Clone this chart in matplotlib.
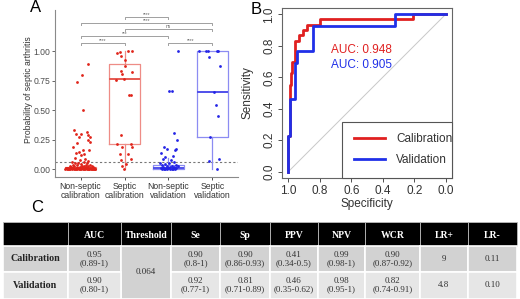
import matplotlib
matplotlib.use('Agg')
import matplotlib.pyplot as plt
from matplotlib.patches import Rectangle

plt.rcParams['font.family'] = ['Liberation Sans', 'DejaVu Sans']

# ---- panel A: predicted probability per group ----
groups = ['Non-septic\ncalibration', 'Septic\ncalibration', 'Non-septic\nvalidation', 'Septic\nvalidation']
pt_colors = ['#e0241a', '#e0241a', '#2424e6', '#2424e6']
box_colors = ['#ee8c86', '#ee8c86', '#8c8cf2', '#8c8cf2']
med_colors = ['#e65a52', '#e65a52', '#5050ea', '#5050ea']

box_q1 = [0.0, 0.214, 0.003, 0.276]
box_med = [0.008, 0.766, 0.012, 0.654]
box_q3 = [0.022, 0.887, 0.040, 1.0]
box_lo = [0.0, 0.0, 0.0, 0.0]
box_hi = [0.05, 1.0, 0.095, 1.0]

nsc_y = [0.89, 0.80, 0.74, 0.50, 0.33, 0.32, 0.30, 0.30, 0.29, 0.27, 0.27, 0.25, 0.23, 0.22,
         0.19, 0.16, 0.16, 0.15, 0.14, 0.13, 0.12, 0.10, 0.09, 0.08, 0.07, 0.06,
         0.06, 0.055, 0.05, 0.05, 0.045, 0.04, 0.04, 0.035, 0.035, 0.03, 0.03, 0.03, 0.025,
         0.025, 0.025, 0.02, 0.02, 0.02, 0.02, 0.015, 0.015, 0.015, 0.015, 0.012, 0.01,
         0.01, 0.01, 0.01, 0.01, 0.008, 0.008, 0.006, 0.006, 0.005, 0.005, 0.004, 0.004,
         0.003, 0.003, 0.002, 0.002, 0.001, 0.001, 0.0, 0.0, 0.0, 0.0, 0.0, 0.0, 0.0,
         0.012, 0.01, 0.008, 0.006, 0.004, 0.002, 0.0, 0.0, 0.003, 0.007, 0.011, 0.015]
nsc_dx = [0.17, 0.03, -0.09, 0.05, -0.14, 0.14, 0.0, -0.11, 0.17, 0.21, -0.03, 0.17, 0.22, -0.09,
          -0.17, 0.06, 0.19, -0.04, -0.11, 0.09, 0.02, -0.13, 0.10, -0.02, 0.18, -0.20,
          0.08, -0.12, 0.15, -0.05, 0.01, -0.18, 0.12, 0.21, -0.09, -0.25, 0.04, 0.18, -0.14,
          0.09, 0.26, -0.21, -0.02, 0.13, 0.29, -0.30, -0.08, 0.06, 0.22, -0.16, -0.33,
          -0.11, 0.03, 0.16, 0.31, -0.24, 0.10, -0.04, 0.24, -0.28, 0.19, -0.13, 0.07,
          -0.20, 0.27, -0.07, 0.14, -0.31, 0.33, -0.26, -0.15, -0.01, 0.11, 0.20, 0.30, -0.35,
          0.25, -0.19, -0.29, 0.00, 0.28, -0.10, 0.05, 0.34, 0.17, -0.23, 0.12, -0.06]

sc_y = [0.986, 0.994, 1.0, 1.0, 0.958, 0.924, 0.876, 0.834, 0.81, 0.825, 0.755, 0.76, 0.628,
        0.625, 0.287, 0.214, 0.214, 0.19, 0.19, 0.13, 0.13, 0.08, 0.085, 0.045, 0.03, 0.003]
sc_dx = [-0.17, -0.11, 0.09, 0.17, -0.09, 0.01, 0.02, -0.09, -0.06, 0.18, -0.19, -0.02, 0.11,
         0.14, -0.08, -0.17, 0.14, -0.06, 0.17, -0.11, 0.08, -0.09, 0.15, 0.04, -0.06, -0.02]

nsv_y = [1.0, 0.665, 0.662, 0.31, 0.248, 0.19, 0.175, 0.175, 0.16, 0.135, 0.107, 0.113, 0.085,
         0.08, 0.06, 0.055, 0.05, 0.045, 0.04, 0.035, 0.03, 0.03, 0.025, 0.02, 0.02, 0.018,
         0.015, 0.012, 0.01, 0.01, 0.008, 0.006, 0.005, 0.004, 0.003, 0.002, 0.001, 0.0, 0.0]
nsv_dx = [0.21, 0.01, 0.075, 0.135, 0.2, -0.11, -0.03, 0.17, 0.15, -0.165, -0.07, 0.1, -0.13,
          0.06, 0.12, -0.2, 0.02, -0.09, 0.16, -0.15, 0.08, -0.03, 0.22, -0.12, 0.04, 0.13,
          -0.06, 0.18, -0.18, 0.0, 0.1, -0.1, 0.07, -0.04, 0.15, -0.14, 0.03, -0.08, 0.11]

sv_y = [1.0, 1.0, 1.0, 1.0, 1.0, 0.952, 0.873, 0.654, 0.544, 0.451, 0.276, 0.068, 0.085, 0.003]
sv_dx = [-0.3, -0.15, -0.105, 0.1, 0.135, -0.075, 0.165, 0.04, 0.075, 0.13, -0.06, -0.09, 0.15, 0.11]

threshold = 0.064

# comparisons: group a, group b, bracket height, label
comp_a = [2, 1, 2, 1, 1, 3]
comp_b = [3, 4, 4, 3, 2, 4]
comp_y = [1.285, 1.234, 1.183, 1.127, 1.065, 1.065]
comp_lab = ['****', '****', 'ns', '***', '****', '****']

# ---- panel B: ROC curves ----
cal_spec = [1.0, 1.0, 0.99, 0.99, 0.985, 0.985, 0.975, 0.975, 0.96, 0.96, 0.955, 0.955,
            0.93, 0.93, 0.905, 0.905, 0.88, 0.88, 0.80, 0.80, 0.21, 0.21, 0.0]
cal_sens = [0.0, 0.23, 0.23, 0.55, 0.55, 0.63, 0.63, 0.70, 0.70, 0.80, 0.80, 0.83,
            0.83, 0.87, 0.87, 0.90, 0.90, 0.935, 0.935, 0.968, 0.968, 1.0, 1.0]
val_spec = [1.0, 1.0, 0.987, 0.987, 0.96, 0.96, 0.945, 0.945, 0.84, 0.84, 0.32, 0.32, 0.0]
val_sens = [0.0, 0.23, 0.23, 0.46, 0.46, 0.69, 0.69, 0.77, 0.77, 0.925, 0.925, 1.0, 1.0]
auc_cal = 0.948
auc_val = 0.905

# ---- panel C: table ----
col_names = ['', 'AUC', 'Threshold', 'Se', 'Sp', 'PPV', 'NPV', 'WCR', 'LR+', 'LR-']
row_names = ['Calibration', 'Validation']
cal_row = ['0.95\n(0.89-1)', '0.064', '0.90\n(0.8-1)', '0.90\n(0.86-0.93)', '0.41\n(0.34-0.5)',
           '0.99\n(0.98-1)', '0.90\n(0.87-0.92)', '9', '0.11']
val_row = ['0.90\n(0.80-1)', '', '0.92\n(0.77-1)', '0.81\n(0.71-0.89)', '0.46\n(0.35-0.62)',
           '0.98\n(0.95-1)', '0.82\n(0.74-0.91)', '4.8', '0.10']

fig = plt.figure(figsize=(5.2, 2.99), dpi=100)

# ================= A =================
axA = fig.add_axes([55 / 520, 1 - 176.7 / 299, 183 / 520, 166.7 / 299])
stats = []
for i in range(4):
    stats.append(dict(q1=box_q1[i], med=box_med[i], q3=box_q3[i],
                      whislo=box_lo[i], whishi=box_hi[i], fliers=[]))
for i in range(4):
    axA.bxp([stats[i]], positions=[i + 1], widths=0.72, showcaps=False, showfliers=False,
            boxprops=dict(color=box_colors[i], lw=0.9),
            whiskerprops=dict(color=box_colors[i], lw=0.9),
            medianprops=dict(color=med_colors[i], lw=1.4))
axA.axhline(threshold, color='#777777', ls=(0, (2, 2)), lw=0.8, zorder=1)
ys = [nsc_y, sc_y, nsv_y, sv_y]
dxs = [nsc_dx, sc_dx, nsv_dx, sv_dx]
for i in range(4):
    axA.scatter([i + 1 + d for d in dxs[i]], ys[i], s=4, color=pt_colors[i],
                lw=0, zorder=3)
for a, b, y, lab in zip(comp_a, comp_b, comp_y, comp_lab):
    axA.plot([a, a, b, b], [y - 0.015, y, y, y - 0.015], color='#a0a0a0', lw=0.7,
             clip_on=False)
    axA.text((a + b) / 2, y + 0.004, lab, ha='center', va='bottom', fontsize=3.5,
             color='#606060')
axA.set_xlim(0.42, 4.58)
axA.set_ylim(-0.062, 1.347)
axA.set_yticks([0, 0.25, 0.5, 0.75, 1.0])
axA.set_yticklabels(['0.00', '0.25', '0.50', '0.75', '1.00'])
axA.set_xticks([1, 2, 3, 4])
axA.set_xticklabels(groups, linespacing=1.0)
axA.tick_params(axis='y', labelsize=6.2, colors='#4d4d4d', length=2, width=0.6, pad=1.5)
axA.tick_params(axis='x', labelsize=6.2, colors='#333333', length=2, width=0.6, pad=1.5)
axA.spines['top'].set_visible(False)
axA.spines['right'].set_visible(False)
for s in ['left', 'bottom']:
    axA.spines[s].set_color('#8a8a8a')
    axA.spines[s].set_linewidth(0.8)
axA.set_ylabel('Probability of septic arthritis', fontsize=6.2, color='#333333')
axA.yaxis.set_label_coords(-0.12, 0.52)
fig.text(36 / 520, 1 - 8 / 299, 'A', fontsize=12, ha='center', va='center')

# ================= B =================
axB = fig.add_axes([282 / 520, 1 - 178 / 299, 170 / 520, 170 / 299])
axB.plot([1, 0], [0, 1], color='#c8c8c8', lw=0.7)
axB.plot(cal_spec, cal_sens, color='#e02020', lw=2.0, label='Calibration')
axB.plot(val_spec, val_sens, color='#2030e8', lw=2.0, label='Validation')
axB.set_xlim(1.04, -0.04)
axB.set_ylim(-0.04, 1.04)
axB.set_xticks([1.0, 0.8, 0.6, 0.4, 0.2, 0.0])
axB.set_yticks([0.0, 0.2, 0.4, 0.6, 0.8, 1.0])
axB.set_yticklabels(['0.0', '0.2', '0.4', '0.6', '0.8', '1.0'], rotation=90, va='center')
axB.tick_params(labelsize=8.5, colors='#333333', length=3, width=0.6, pad=2)
for s in axB.spines.values():
    s.set_color('#666666')
    s.set_linewidth(0.8)
axB.set_xlabel('Specificity', fontsize=8.5, color='#333333', labelpad=1)
axB.set_ylabel('Sensitivity', fontsize=8.5, color='#333333')
axB.yaxis.set_label_coords(-0.17, 0.5)
axB.text(0.535, 0.774, 'AUC: %.3f' % auc_cal, color='#e02020', fontsize=8.5,
         ha='center', va='center')
axB.text(0.535, 0.677, 'AUC: %.3f' % auc_val, color='#2030e8', fontsize=8.5,
         ha='center', va='center')
leg = axB.legend(loc='lower left', bbox_to_anchor=(0.353, 0.0, 0.647, 0.347), mode='expand',
                 borderaxespad=0, fontsize=8.5, handlelength=2.6, handletextpad=1.0,
                 labelspacing=0.75, borderpad=1.0, fancybox=False, framealpha=1)
leg.get_frame().set_edgecolor('#555555')
leg.get_frame().set_linewidth(0.8)
for t in leg.get_texts():
    t.set_color('#333333')
fig.text(256 / 520, 1 - 9 / 299, 'B', fontsize=12, ha='center', va='center')

# ================= C =================
fig.text(37 / 520, 1 - 208 / 299, 'C', fontsize=12, ha='center', va='center')
axC = fig.add_axes([0, 0, 1, 1])
axC.set_xlim(0, 520)
axC.set_ylim(299, 0)
axC.axis('off')
col_edges = [3, 68, 121, 171, 220, 270, 318, 365, 420, 468, 517]
hdr_top, hdr_bot = 222, 246
row_edges = [246, 271.5, 299]
row_fill = ['#d2d2d2', '#e6e6e6']
serif = ['Liberation Serif', 'DejaVu Serif']
for j in range(len(col_names)):
    x0, x1 = col_edges[j], col_edges[j + 1]
    axC.add_patch(Rectangle((x0, hdr_top), x1 - x0, hdr_bot - hdr_top, fc='black',
                            ec='#bbbbbb', lw=0.6))
    axC.text((x0 + x1) / 2, (hdr_top + hdr_bot) / 2 + 1, col_names[j], color='white',
             fontsize=7, fontweight='bold', family=serif, ha='center', va='center')
rows = [cal_row, val_row]
for r in range(2):
    y0, y1 = row_edges[r], row_edges[r + 1]
    x0, x1 = col_edges[0], col_edges[1]
    axC.add_patch(Rectangle((x0, y0), x1 - x0, y1 - y0, fc=row_fill[r], ec='white', lw=1.2))
    axC.text((x0 + x1) / 2, (y0 + y1) / 2, row_names[r], fontsize=7.2, fontweight='bold',
             family=serif, color='#222222', ha='center', va='center')
    for j in range(1, len(col_names)):
        x0, x1 = col_edges[j], col_edges[j + 1]
        if j == 2:
            if r == 0:
                axC.add_patch(Rectangle((x0, row_edges[0]), x1 - x0,
                                        row_edges[2] - row_edges[0], fc='#d2d2d2',
                                        ec='white', lw=1.2))
                axC.text((x0 + x1) / 2, (row_edges[0] + row_edges[2]) / 2, rows[r][j - 1],
                         fontsize=6.5, family=serif, color='#333333', ha='center', va='center')
            continue
        axC.add_patch(Rectangle((x0, y0), x1 - x0, y1 - y0, fc=row_fill[r], ec='white', lw=1.2))
        axC.text((x0 + x1) / 2, (y0 + y1) / 2, rows[r][j - 1], fontsize=6.5, family=serif,
                 color='#333333', ha='center', va='center', linespacing=1.05)

fig.savefig('out.png', dpi=100)
